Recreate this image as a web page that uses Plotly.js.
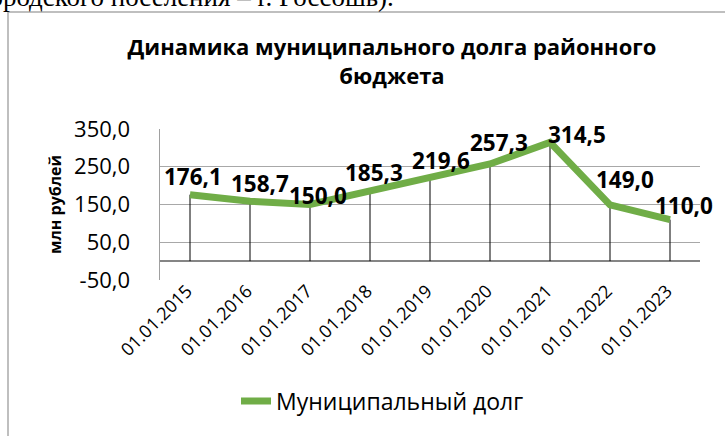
<!DOCTYPE html>
<html>
<head>
<meta charset="utf-8">
<script src="https://cdn.plot.ly/plotly-3.0.1.min.js"></script>
<style>html,body{margin:0;padding:0;background:#fff;}#chart{width:725px;height:436px;}</style>
</head>
<body>
<div id="chart"></div>
<script>
// ---- data ----
const categories = ["01.01.2015","01.01.2016","01.01.2017","01.01.2018","01.01.2019","01.01.2020","01.01.2021","01.01.2022","01.01.2023"];
const debtValues = [176.1, 158.7, 150.0, 185.3, 219.6, 257.3, 314.5, 149.0, 110.0];
const seriesName = "Муниципальный долг";
const yTickVals = [-50, 50, 150, 250, 350];
const yTickText = ["-50,0", "50,0", "150,0", "250,0", "350,0"];
const chartTitle = "Динамика муниципального долга районного<br>бюджета";
const yTitle = "млн рублей";
const pageText = "городского поселения – г. Россошь).";

// ---- label placement (style only) ----
const labelDx = [3, 10, 8, 4, 11, 9, 27, 15, 14];
const labelDy = [18, 18, 9, 19, 18, 21, 8, 25, 14];

const fmt = v => v.toFixed(1).replace('.', ',');

// drop lines built from the data
const dropX = [], dropY = [];
categories.forEach((c, i) => { dropX.push(c, c, null); dropY.push(0, debtValues[i], null); });

const FONT = "Open Sans";
const traces = [
  {x: dropX, y: dropY, type: 'scatter', mode: 'lines', line: {color: '#000', width: 1},
   showlegend: false, hoverinfo: 'skip'},
  {x: categories, y: debtValues, type: 'scatter', mode: 'lines', name: seriesName,
   line: {color: '#70AD47', width: 7}}
];

// px -> paper helpers (plot area: x 160..700, y 129..280)
const L = 160, W = 540, B = 280, H = 151;
const px = v => (v - L) / W;
const py = v => (B - v) / H;

const annotations = categories.map((c, i) => ({
  x: c, y: debtValues[i], xref: 'x', yref: 'y', text: fmt(debtValues[i]),
  showarrow: false, xshift: labelDx[i], yshift: labelDy[i],
  font: {family: FONT, size: 22.5, color: '#000', weight: 'bold'}
}));
annotations.push({
  xref: 'paper', yref: 'paper', x: px(396), y: py(14), xanchor: 'right', yanchor: 'bottom',
  text: pageText, showarrow: false,
  font: {family: 'Liberation Serif', size: 27, color: '#000'}
});

const layout = {
  width: 725, height: 436,
  margin: {l: 160, r: 25, t: 129, b: 156},
  paper_bgcolor: '#fff', plot_bgcolor: '#fff',
  showlegend: true,
  title: {text: chartTitle, x: px(392), xref: 'paper', xanchor: 'center',
          y: 1 - 55/436, yref: 'container', yanchor: 'middle',
          font: {family: FONT, size: 22, color: '#000', weight: 'bold'}},
  xaxis: {type: 'category', range: [-0.5, 8.5], showgrid: false, showline: false, zeroline: false,
          ticks: '', tickangle: -45, tickfont: {family: FONT, size: 18, color: '#000'},
          ticklabelstandoff: -4, ticklabelshift: -3,
          automargin: false, fixedrange: true},
  yaxis: {range: [-50, 350], tickvals: yTickVals, ticktext: yTickText,
          showgrid: true, gridcolor: '#A8A8A8', gridwidth: 1.3,
          zeroline: true, zerolinecolor: '#858585', zerolinewidth: 2.4,
          showline: true, linecolor: '#A0A0A0', linewidth: 1.5,
          ticks: '', ticklabelstandoff: 24,
          tickfont: {family: FONT, size: 22, color: '#000'},
          title: {text: yTitle, standoff: 8, font: {family: FONT, size: 16, color: '#000', weight: 'bold'}},
          automargin: false, fixedrange: true},
  legend: {orientation: 'h', x: px(236), xanchor: 'left', y: py(401), yanchor: 'middle',
           font: {family: FONT, size: 23, color: '#000'}, bgcolor: 'rgba(0,0,0,0)'},
  shapes: [{type: 'rect', xref: 'paper', yref: 'paper', x0: px(8), x1: px(735), y0: py(445), y1: py(12),
            line: {color: '#ABABAB', width: 1.5}, layer: 'below'}],
  annotations: annotations
};

Plotly.newPlot('chart', traces, layout, {displayModeBar: false, staticPlot: true});
</script>
</body>
</html>
